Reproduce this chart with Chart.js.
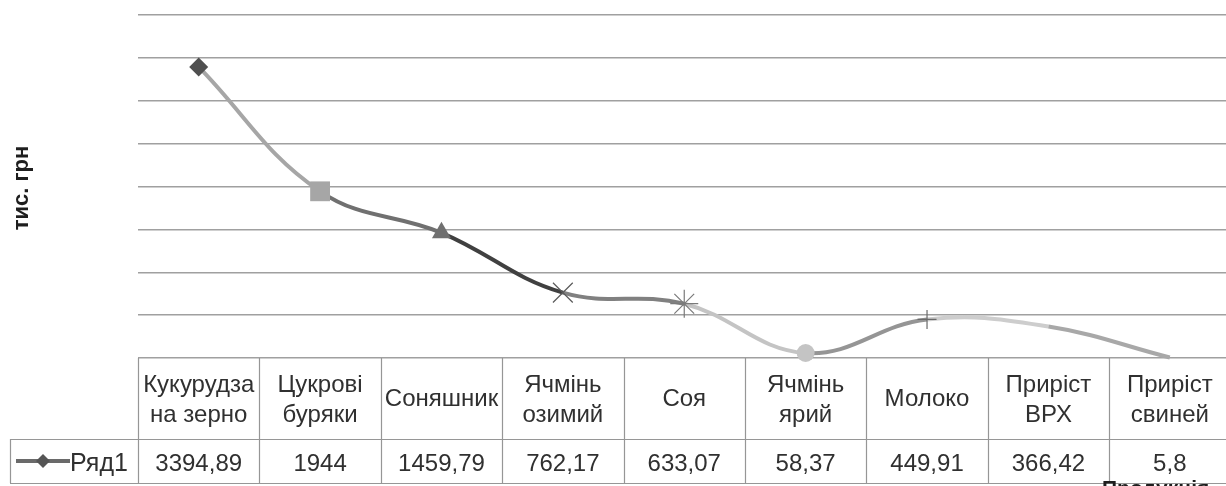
<!DOCTYPE html>
<html lang="uk">
<head>
<meta charset="utf-8">
<title>Продукція, тис. грн</title>
<script src="https://cdn.jsdelivr.net/npm/chart.js@4.4.1/dist/chart.umd.min.js"></script>
<style>
  html, body { margin: 0; padding: 0; background: #fff; overflow: hidden; }
  #wrap { width: 1226px; height: 486px; overflow: hidden; }
  canvas { display: block; }
</style>
</head>
<body>
<div id="wrap"><canvas id="chart" width="1240" height="486"></canvas></div>
<script>
// Categories (header row of the data table), two lines where the label wraps
const categories = [
  ['Кукурудза', 'на зерно'],
  ['Цукрові', 'буряки'],
  ['Соняшник'],
  ['Ячмінь', 'озимий'],
  ['Соя'],
  ['Ячмінь', 'ярий'],
  ['Молоко'],
  ['Приріст', 'ВРХ'],
  ['Приріст', 'свиней']
];
const seriesName = 'Ряд1';
const values = [3394.89, 1944, 1459.79, 762.17, 633.07, 58.37, 449.91, 366.42, 5.8];

// Value axis range (gridlines only, no tick labels)
const yMin = 0;
const yMax = 4000;
const yStep = 500;

const yTitle = 'тис. грн';
const xTitle = 'Продукція';

// Per-point appearance: each segment takes the colour of the point it runs into
const pointColors  = ['#4f4f4f', '#a6a6a6', '#707070', '#404040', '#808080', '#c4c4c4', '#959595', '#cdcdcd', '#a8a8a8'];
const pointStyles  = ['rectRot', 'rect', 'triangle', 'crossRot', 'star', 'circle', 'cross', false, false];
const pointSizes   = [9.5, 14, 11, 14, 14, 9, 9.5, 0, 0];
const pointFills   = ['#4f4f4f', '#a6a6a6', '#707070', 'rgba(0,0,0,0)', 'rgba(0,0,0,0)', '#c4c4c4', 'rgba(0,0,0,0)', '#cdcdcd', '#a8a8a8'];
const pointStrokes = ['#4f4f4f', '#a6a6a6', '#707070', '#5a5a5a', '#7a7a7a', '#c4c4c4', '#6a6a6a', '#cdcdcd', '#a8a8a8'];
const pointStrokeW = [0, 0, 0, 1.2, 1.2, 0, 1.2, 0, 0];

const fmt = v => String(v).replace('.', ',');

const TABLE_FONT = '24px "Liberation Sans", Arial, sans-serif';
const TEXT_COLOR = '#303030';
const BORDER_COLOR = '#969696';

// Data table under the plot, laid out on the category scale
const dataTable = {
  id: 'dataTable',
  afterDraw(chart) {
    const { ctx, chartArea: a, scales: { x } } = chart;
    const colW = x.getPixelForValue(1) - x.getPixelForValue(0);
    const first = x.getPixelForValue(0) - colW / 2;
    const top = a.bottom, mid = top + 81, bot = top + 125;
    const legendLeft = 10;
    const snap = v => Math.round(v) + 0.5;

    ctx.save();
    ctx.strokeStyle = BORDER_COLOR;
    ctx.lineWidth = 1.2;
    ctx.beginPath();
    ctx.moveTo(legendLeft, snap(mid)); ctx.lineTo(a.right, snap(mid));
    ctx.moveTo(legendLeft, snap(bot)); ctx.lineTo(a.right, snap(bot));
    ctx.moveTo(snap(legendLeft), mid); ctx.lineTo(snap(legendLeft), bot);
    for (let i = 0; i <= categories.length; i++) {
      const px = snap(first + i * colW);
      ctx.moveTo(px, top); ctx.lineTo(px, bot);
    }
    ctx.stroke();

    // header labels and values
    ctx.fillStyle = TEXT_COLOR;
    ctx.font = TABLE_FONT;
    ctx.textAlign = 'center';
    ctx.textBaseline = 'alphabetic';
    categories.forEach((lines, i) => {
      const cx = x.getPixelForValue(i);
      if (lines.length === 2) {
        ctx.fillText(lines[0], cx, top + 34);
        ctx.fillText(lines[1], cx, top + 64);
      } else {
        ctx.fillText(lines[0], cx, top + 48);
      }
      ctx.fillText(fmt(values[i]), cx, top + 113);
    });

    // legend key in the row header
    const ky = top + 103;
    ctx.strokeStyle = '#6a6a6a';
    ctx.lineWidth = 4;
    ctx.beginPath();
    ctx.moveTo(16, ky); ctx.lineTo(70, ky);
    ctx.stroke();
    ctx.fillStyle = '#555555';
    ctx.beginPath();
    ctx.moveTo(43, ky - 7); ctx.lineTo(50, ky); ctx.lineTo(43, ky + 7); ctx.lineTo(36, ky);
    ctx.closePath();
    ctx.fill();
    ctx.fillStyle = TEXT_COLOR;
    ctx.textAlign = 'left';
    ctx.font = '25px "Liberation Sans", Arial, sans-serif';
    ctx.fillText(seriesName, 70, top + 113);

    // axis titles
    ctx.fillStyle = '#1e1e1e';
    ctx.font = 'bold 22px "Liberation Sans", Arial, sans-serif';
    ctx.save();
    ctx.translate(22, 188);
    ctx.rotate(-Math.PI / 2);
    ctx.textAlign = 'center';
    ctx.textBaseline = 'middle';
    ctx.fillText(yTitle, 0, 0);
    ctx.restore();

    ctx.font = 'bold 21px "Liberation Sans", Arial, sans-serif';
    ctx.textAlign = 'left';
    ctx.textBaseline = 'alphabetic';
    ctx.fillText(xTitle, 1102, 495);
    ctx.restore();
  }
};

new Chart(document.getElementById('chart'), {
  type: 'line',
  data: {
    labels: categories.map(c => c.join(' ')),
    datasets: [{
      label: seriesName,
      data: values,
      borderWidth: 4,
      tension: 0.4,
      borderColor: pointColors[1],
      segment: { borderColor: c => pointColors[c.p1DataIndex] },
      pointStyle: pointStyles,
      pointRadius: pointSizes,
      pointHoverRadius: pointSizes,
      pointBackgroundColor: pointFills,
      pointBorderColor: pointStrokes,
      pointBorderWidth: pointStrokeW,
      clip: false
    }]
  },
  options: {
    responsive: false,
    animation: false,
    events: [],
    layout: { padding: { left: 138, right: 0, top: 15, bottom: 128 } },
    plugins: { legend: { display: false }, tooltip: { enabled: false } },
    scales: {
      x: { display: false, offset: true },
      y: {
        min: yMin, max: yMax,
        ticks: { display: false, stepSize: yStep },
        border: { display: false },
        grid: { color: '#a0a0a0', lineWidth: 1.5, drawTicks: false }
      }
    }
  },
  plugins: [dataTable]
});
</script>
</body>
</html>
